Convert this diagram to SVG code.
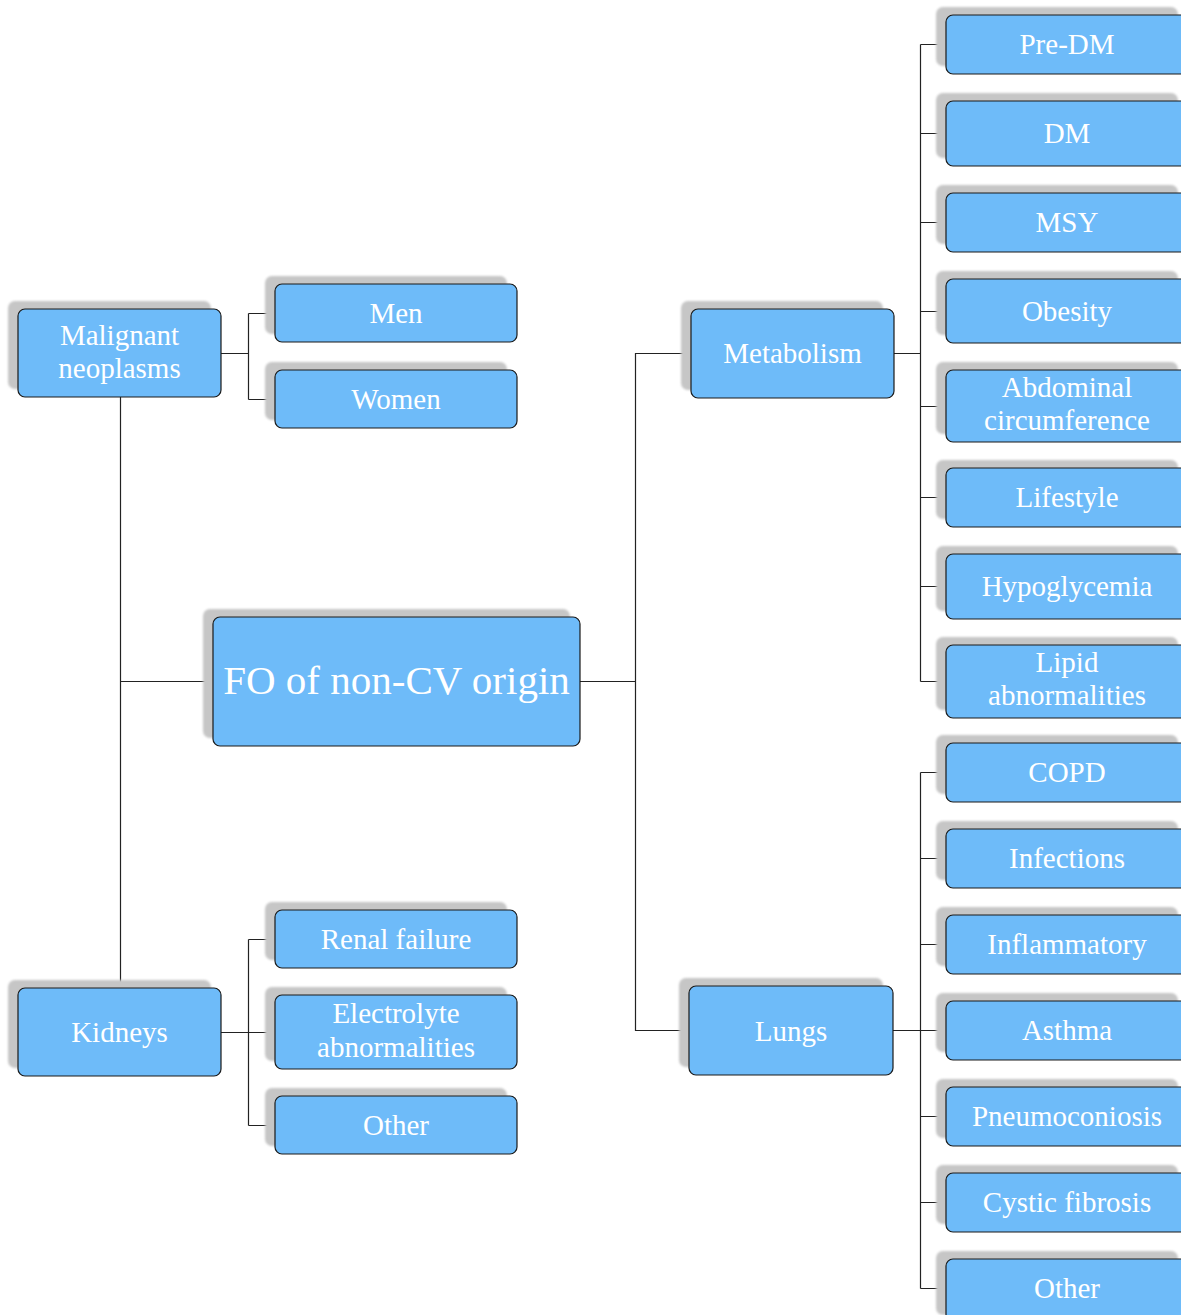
<svg xmlns="http://www.w3.org/2000/svg" width="1181" height="1315" viewBox="0 0 1181 1315">
<defs>
<filter id="blur" x="-10%" y="-20%" width="120%" height="140%"><feGaussianBlur stdDeviation="0.8"/></filter>
</defs>
<style>
.sh{fill:#c6c6c6;filter:url(#blur)}
.bx{fill:#6ebbf9;stroke:#1a1a1a;stroke-width:1.2}
.t{font-family:"Liberation Serif","Times New Roman",serif;font-size:29px;fill:#ffffff;text-anchor:middle}
.big{font-size:41px}
.c{fill:none;stroke:#222;stroke-width:1.2}
</style>
<rect width="1181" height="1315" fill="#ffffff"/>
<g id="connectors">
<path class="c" d="M580,681.5H635.5V353.5H692M635.5,681.5V1030.5H689"/>
<path class="c" d="M213,681.5H120.5V397M120.5,681.5V988"/>
<path class="c" d="M221,353.5H248.5M248.5,313.5V399.5M248.5,313.5H275M248.5,399.5H275"/>
<path class="c" d="M221,1032.5H275M248.5,939.5V1125.5M248.5,939.5H275M248.5,1125.5H275"/>
<path class="c" d="M894,353.5H920.5M920.5,44.5V681.5M920.5,44.5H946M920.5,133.5H946M920.5,222.5H946M920.5,311.5H946M920.5,406.5H946M920.5,497.5H946M920.5,586.5H946M920.5,681.5H946"/>
<path class="c" d="M893,1030.5H946M920.5,772.5V1288.5M920.5,772.5H946M920.5,858.5H946M920.5,944.5H946M920.5,1116.5H946M920.5,1202.5H946M920.5,1288.5H946"/>
</g>
<g id="fo"><rect class="sh" x="203" y="609" width="367" height="129" rx="7"/><rect class="bx" x="213" y="617" width="367" height="129" rx="7"/><text class="t big" x="396.5" y="694">FO of non-CV origin</text></g>
<g id="malignant"><rect class="sh" x="8" y="301" width="203" height="88" rx="7"/><rect class="bx" x="18" y="309" width="203" height="88" rx="7"/><text class="t" x="119.5" y="345">Malignant</text><text class="t" x="119.5" y="378">neoplasms</text></g>
<g id="men"><rect class="sh" x="265" y="276" width="242" height="58" rx="7"/><rect class="bx" x="275" y="284" width="242" height="58" rx="7"/><text class="t" x="396" y="323">Men</text></g>
<g id="women"><rect class="sh" x="265" y="362" width="242" height="58" rx="7"/><rect class="bx" x="275" y="370" width="242" height="58" rx="7"/><text class="t" x="396" y="409">Women</text></g>
<g id="kidneys"><rect class="sh" x="8" y="980" width="203" height="88" rx="7"/><rect class="bx" x="18" y="988" width="203" height="88" rx="7"/><text class="t" x="119.5" y="1042">Kidneys</text></g>
<g id="renal"><rect class="sh" x="265" y="902" width="242" height="58" rx="7"/><rect class="bx" x="275" y="910" width="242" height="58" rx="7"/><text class="t" x="396" y="949">Renal failure</text></g>
<g id="electrolyte"><rect class="sh" x="265" y="987" width="242" height="74" rx="7"/><rect class="bx" x="275" y="995" width="242" height="74" rx="7"/><text class="t" x="396" y="1023">Electrolyte</text><text class="t" x="396" y="1057">abnormalities</text></g>
<g id="kother"><rect class="sh" x="265" y="1088" width="242" height="58" rx="7"/><rect class="bx" x="275" y="1096" width="242" height="58" rx="7"/><text class="t" x="396" y="1135">Other</text></g>
<g id="metabolism"><rect class="sh" x="681" y="301" width="202" height="89" rx="7"/><rect class="bx" x="691" y="309" width="203" height="89" rx="7"/><text class="t" x="792.5" y="363">Metabolism</text></g>
<g id="lungs"><rect class="sh" x="679" y="978" width="204" height="89" rx="7"/><rect class="bx" x="689" y="986" width="204" height="89" rx="7"/><text class="t" x="791" y="1041">Lungs</text></g>
<g id="predm"><rect class="sh" x="936" y="7" width="242" height="59" rx="7"/><rect class="bx" x="946" y="15" width="242" height="59" rx="7"/><text class="t" x="1067" y="54">Pre-DM</text></g>
<g id="dm"><rect class="sh" x="936" y="93" width="242" height="65" rx="7"/><rect class="bx" x="946" y="101" width="242" height="65" rx="7"/><text class="t" x="1067" y="143">DM</text></g>
<g id="msy"><rect class="sh" x="936" y="185" width="242" height="59" rx="7"/><rect class="bx" x="946" y="193" width="242" height="59" rx="7"/><text class="t" x="1067" y="232">MSY</text></g>
<g id="obesity"><rect class="sh" x="936" y="271" width="242" height="64" rx="7"/><rect class="bx" x="946" y="279" width="242" height="64" rx="7"/><text class="t" x="1067" y="321">Obesity</text></g>
<g id="abdominal"><rect class="sh" x="936" y="362" width="242" height="72" rx="7"/><rect class="bx" x="946" y="370" width="242" height="72" rx="7"/><text class="t" x="1067" y="397">Abdominal</text><text class="t" x="1067" y="430">circumference</text></g>
<g id="lifestyle"><rect class="sh" x="936" y="460" width="242" height="59" rx="7"/><rect class="bx" x="946" y="468" width="242" height="59" rx="7"/><text class="t" x="1067" y="507">Lifestyle</text></g>
<g id="hypoglycemia"><rect class="sh" x="936" y="546" width="242" height="65" rx="7"/><rect class="bx" x="946" y="554" width="242" height="65" rx="7"/><text class="t" x="1067" y="596">Hypoglycemia</text></g>
<g id="lipid"><rect class="sh" x="936" y="637" width="242" height="73" rx="7"/><rect class="bx" x="946" y="645" width="242" height="73" rx="7"/><text class="t" x="1067" y="672">Lipid</text><text class="t" x="1067" y="705">abnormalities</text></g>
<g id="copd"><rect class="sh" x="936" y="735" width="242" height="59" rx="7"/><rect class="bx" x="946" y="743" width="242" height="59" rx="7"/><text class="t" x="1067" y="782">COPD</text></g>
<g id="infections"><rect class="sh" x="936" y="821" width="242" height="59" rx="7"/><rect class="bx" x="946" y="829" width="242" height="59" rx="7"/><text class="t" x="1067" y="868">Infections</text></g>
<g id="inflammatory"><rect class="sh" x="936" y="907" width="242" height="59" rx="7"/><rect class="bx" x="946" y="915" width="242" height="59" rx="7"/><text class="t" x="1067" y="954">Inflammatory</text></g>
<g id="asthma"><rect class="sh" x="936" y="993" width="242" height="59" rx="7"/><rect class="bx" x="946" y="1001" width="242" height="59" rx="7"/><text class="t" x="1067" y="1040">Asthma</text></g>
<g id="pneumoconiosis"><rect class="sh" x="936" y="1079" width="242" height="59" rx="7"/><rect class="bx" x="946" y="1087" width="242" height="59" rx="7"/><text class="t" x="1067" y="1126">Pneumoconiosis</text></g>
<g id="cystic"><rect class="sh" x="936" y="1165" width="242" height="59" rx="7"/><rect class="bx" x="946" y="1173" width="242" height="59" rx="7"/><text class="t" x="1067" y="1212">Cystic fibrosis</text></g>
<g id="lother"><rect class="sh" x="936" y="1251" width="242" height="64" rx="7"/><rect class="bx" x="946" y="1259" width="242" height="62" rx="7"/><text class="t" x="1067" y="1298">Other</text></g>
</svg>
